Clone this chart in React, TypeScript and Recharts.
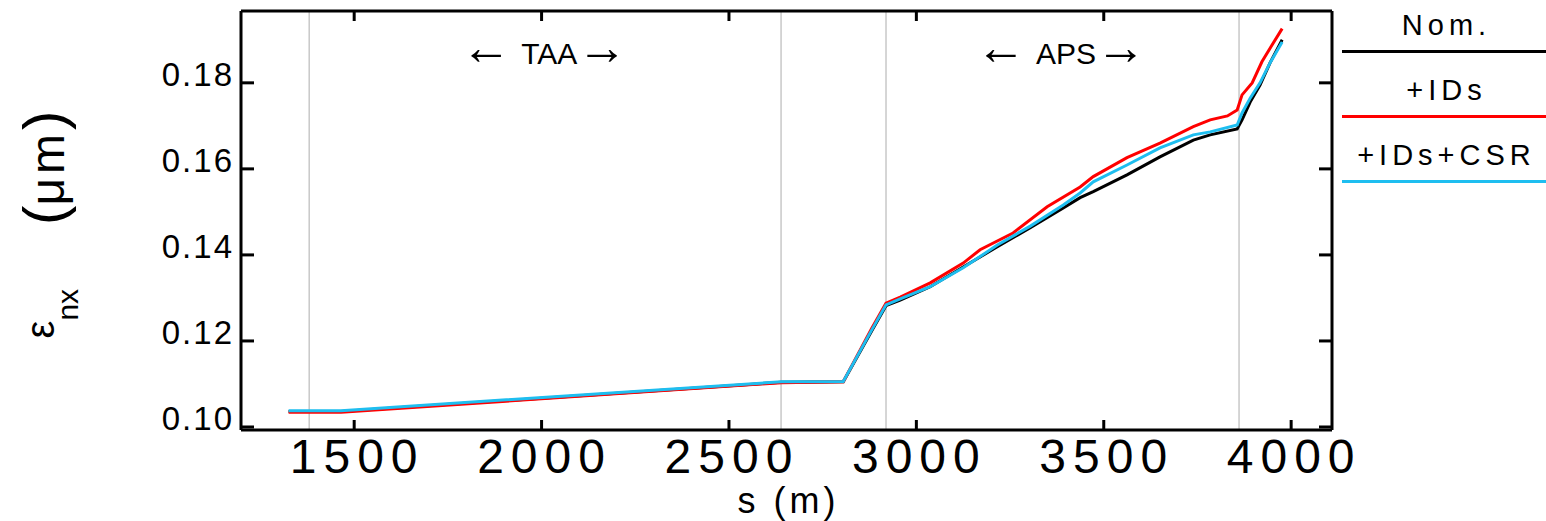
import React from 'react';
import { LineChart, Line, XAxis, YAxis, CartesianGrid, Legend, ReferenceDot } from 'recharts';

const FONT = '"Liberation Sans", Arial, Helvetica, sans-serif';

// axis ticks
const X_TICKS = [1500, 2000, 2500, 3000, 3500, 4000];
const Y_TICKS = [0.1, 0.12, 0.14, 0.16, 0.18];
const SECTION_BOUNDS = [1380, 2639, 2919, 3861];
const X_DOMAIN: [number, number] = [1198, 4109];
const Y_DOMAIN: [number, number] = [0.0993, 0.1967];

// series: nominal
const S_NOM = [1325, 1465, 2640, 2805, 2880, 2919, 2957, 3037, 3125, 3216, 3304, 3392, 3437, 3472, 3562, 3650, 3739, 3784, 3856, 3869, 3891, 3917, 3944, 3976];
const EMIT_NOM = [0.1036, 0.1036, 0.1104, 0.1105, 0.1222, 0.1282, 0.1295, 0.1326, 0.1372, 0.1419, 0.1463, 0.1509, 0.1533, 0.1547, 0.1586, 0.1628, 0.1667, 0.1679, 0.1693, 0.1714, 0.1756, 0.1795, 0.1847, 0.19];

// series: +IDs
const S_IDS = [1325, 1465, 2640, 2805, 2880, 2919, 2957, 3037, 3125, 3170, 3258, 3349, 3437, 3472, 3562, 3650, 3739, 3784, 3830, 3856, 3869, 3896, 3922, 3949, 3976];
const EMIT_IDS = [0.1034, 0.1034, 0.1103, 0.1105, 0.1228, 0.1288, 0.1302, 0.1335, 0.1381, 0.1412, 0.1451, 0.1512, 0.1558, 0.1582, 0.1626, 0.166, 0.1698, 0.1714, 0.1723, 0.1737, 0.1772, 0.18, 0.1849, 0.1888, 0.1926];

// series: +IDs+CSR
const S_CSR = [1325, 1465, 2640, 2805, 2880, 2919, 2957, 3037, 3125, 3216, 3304, 3392, 3437, 3472, 3562, 3650, 3739, 3784, 3856, 3869, 3891, 3917, 3944, 3976];
const EMIT_CSR = [0.1038, 0.1038, 0.1105, 0.1106, 0.1224, 0.1284, 0.1298, 0.1326, 0.137, 0.1423, 0.1467, 0.1516, 0.1544, 0.157, 0.1609, 0.1649, 0.1679, 0.1686, 0.1702, 0.173, 0.1765, 0.18, 0.1847, 0.1895];

const SERIES_NAMES = ['Nom.', '+IDs', '+IDs+CSR'];
const SERIES_COLORS = ['#000000', '#ff0000', '#1ebef0'];

// annotations
const ANNOT_TEXT = ['TAA', 'APS'];
const ANNOT_S = [2007, 3386];
const ANNOT_Y = 0.187;

const toRows = (s: number[], e: number[]) => s.map((v, i) => ({ s: v, e: e[i] }));
const DATA = [toRows(S_NOM, EMIT_NOM), toRows(S_IDS, EMIT_IDS), toRows(S_CSR, EMIT_CSR)];

const XTickBottom = (props: any) => {
  const { x, y, payload } = props;
  return (
    <g>
      <line x1={x} x2={x} y1={y} y2={y - 10} stroke="#000" strokeWidth={3} />
      <text x={x + 3} y={y + 43} textAnchor="middle" fontFamily={FONT} fontSize={48} letterSpacing={7} fill="#000">
        {payload.value}
      </text>
    </g>
  );
};

const XTickTop = (props: any) => {
  const { x, y } = props;
  return <line x1={x} x2={x} y1={y} y2={y + 10} stroke="#000" strokeWidth={3} />;
};

const YTickLeft = (props: any) => {
  const { x, y, payload } = props;
  return (
    <g>
      <line x1={x} x2={x + 13} y1={y} y2={y} stroke="#000" strokeWidth={3} />
      <text x={x - 7} y={y + 3} textAnchor="end" fontFamily={FONT} fontSize={33} letterSpacing={2} fill="#000">
        {Number(payload.value).toFixed(2)}
      </text>
    </g>
  );
};

const YTickRight = (props: any) => {
  const { x, y } = props;
  return <line x1={x} x2={x - 13} y1={y} y2={y} stroke="#000" strokeWidth={3} />;
};

const XTitle = (props: any) => {
  const vb = props.viewBox || { x: 241, y: 430, width: 1091, height: 91 };
  return (
    <text x={vb.x + vb.width / 2 + 2} y={vb.y + 83} textAnchor="middle" fontFamily={FONT} fontSize={36} letterSpacing={4} fill="#000">
      s (m)
    </text>
  );
};

const YTitle = (props: any) => {
  const vb = props.viewBox || { x: 0, y: 11, width: 241, height: 419 };
  const cx = vb.x + 54;
  const cy = vb.y + vb.height / 2 + 4;
  return (
    <text x={cx} y={cy} transform={`rotate(-90, ${cx}, ${cy})`} textAnchor="middle" fontFamily={FONT} fill="#000">
      <tspan fontSize={40}>ε</tspan>
      <tspan fontSize={30} dy={24}>nx</tspan>
      <tspan fontSize={58} dy={-14} dx={64}>(</tspan>
      <tspan fontSize={48} letterSpacing={4}>μm</tspan>
      <tspan fontSize={58}>)</tspan>
    </text>
  );
};

const AnnotLabel = (props: any) => {
  const vb = props.viewBox || { x: 0, y: 0, width: 0, height: 0 };
  const cx = vb.x + (vb.width || 0) / 2;
  const cy = vb.y + (vb.height || 0) / 2;
  return (
    <text x={cx} y={cy + 11} textAnchor="middle" fontFamily={FONT} fontSize={30} fill="#000">
      <tspan fontSize={50}>←</tspan>
      <tspan dx={10}>{props.text}</tspan>
      <tspan fontSize={50}>→</tspan>
    </text>
  );
};

const LegendBox = () => (
  <div style={{ width: 204, fontFamily: FONT, color: '#000' }}>
    {SERIES_NAMES.map((name, i) => (
      <div key={name} style={{ height: 65 }}>
        <div style={{ height: 50, lineHeight: '50px', fontSize: 29, letterSpacing: 5, paddingLeft: 5, textAlign: 'center' }}>{name}</div>
        <div style={{ height: 3, background: SERIES_COLORS[i] }} />
      </div>
    ))}
  </div>
);

export default function App() {
  return (
    <div style={{ position: 'absolute', left: 0, top: 0, background: '#fff' }}>
      <LineChart width={1546} height={521} margin={{ top: 10, right: 213, bottom: 0, left: 0 }}>
        <XAxis
          xAxisId={0}
          dataKey="s"
          type="number"
          domain={X_DOMAIN}
          allowDataOverflow
          ticks={X_TICKS}
          interval={0}
          height={91}
          tickLine={false}
          tickSize={0}
          tickMargin={0}
          tick={<XTickBottom />}
          axisLine={{ stroke: '#000', strokeWidth: 3 }}
          label={<XTitle />}
        />
        <XAxis
          xAxisId="top"
          orientation="top"
          dataKey="s"
          type="number"
          domain={X_DOMAIN}
          allowDataOverflow
          ticks={X_TICKS}
          interval={0}
          height={1}
          tickLine={false}
          tickSize={0}
          tickMargin={0}
          tick={<XTickTop />}
          axisLine={{ stroke: '#000', strokeWidth: 3 }}
        />
        <XAxis xAxisId="g" dataKey="s" type="number" domain={X_DOMAIN} allowDataOverflow ticks={SECTION_BOUNDS} interval={0} hide />
        <YAxis
          yAxisId={0}
          type="number"
          domain={Y_DOMAIN}
          allowDataOverflow
          ticks={Y_TICKS}
          interval={0}
          width={241}
          tickLine={false}
          tickSize={0}
          tickMargin={0}
          tick={<YTickLeft />}
          axisLine={{ stroke: '#000', strokeWidth: 3 }}
          label={<YTitle />}
        />
        <YAxis
          yAxisId="r"
          orientation="right"
          type="number"
          domain={Y_DOMAIN}
          allowDataOverflow
          ticks={Y_TICKS}
          interval={0}
          width={1}
          tickLine={false}
          tickSize={0}
          tickMargin={0}
          tick={<YTickRight />}
          axisLine={{ stroke: '#000', strokeWidth: 3 }}
        />
        <CartesianGrid xAxisId="g" yAxisId={0} horizontal={false} stroke="#c8c8c8" strokeWidth={1.5} />
        {DATA.map((rows, i) => (
          <Line
            key={SERIES_NAMES[i]}
            name={SERIES_NAMES[i]}
            data={rows}
            dataKey="e"
            xAxisId={0}
            yAxisId={0}
            type="linear"
            stroke={SERIES_COLORS[i]}
            strokeWidth={3}
            dot={false}
            activeDot={false}
            isAnimationActive={false}
          />
        ))}
        {ANNOT_TEXT.map((t, i) => (
          <ReferenceDot key={t} xAxisId={0} yAxisId={0} x={ANNOT_S[i]} y={ANNOT_Y} r={0} fill="none" stroke="none" label={<AnnotLabel text={t} />} />
        ))}
        <Legend layout="horizontal" verticalAlign="middle" align="center" wrapperStyle={{ left: 1342, top: 0, width: 204, height: 200 }} content={() => <LegendBox />} />
      </LineChart>
    </div>
  );
}
